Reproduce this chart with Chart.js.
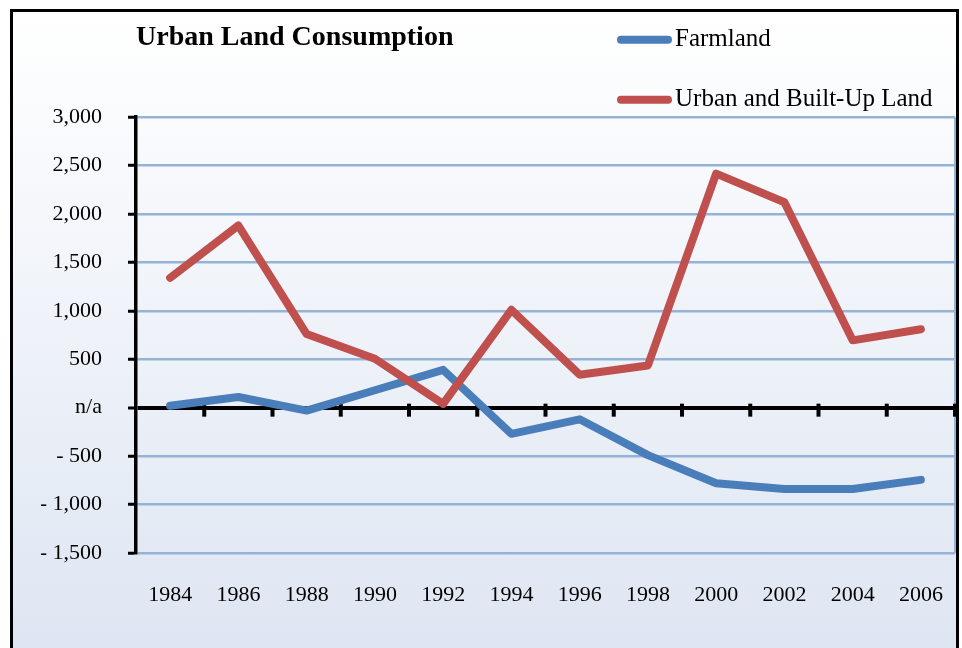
<!DOCTYPE html>
<html>
<head>
<meta charset="utf-8">
<title>Urban Land Consumption</title>
<script src="https://cdn.jsdelivr.net/npm/chart.js@4.4.0/dist/chart.umd.min.js"></script>
<style>
  html, body { margin: 0; padding: 0; background: #fff; overflow: hidden; }
  body { width: 962px; height: 648px; position: relative; }
  .frame {
    position: absolute; left: 10px; top: 9px;
    width: 943px; height: 660px;
    border: 3px solid #000;
    background: linear-gradient(to bottom, #ffffff 0%, #dde5f2 100%);
  }
  .frame canvas { position: absolute; left: 0; top: 0; }
</style>
</head>
<body>
<div class="frame"><canvas id="landChart" width="943" height="636"></canvas></div>
<script>
const years = ['1984', '1986', '1988', '1990', '1992', '1994',
               '1996', '1998', '2000', '2002', '2004', '2006'];

const farmland  = [20, 110, -30, 180, 390, -270, -120, -490, -780, -840, -840, -745];
const urbanLand = [1340, 1880, 760, 505, 40, 1010, 340, 435, 2415, 2120, 695, 810];

const yMin = -1500;
const yMax = 3000;
const yStep = 500;
const zeroLabel = 'n/a';

Chart.defaults.font.family = '"Liberation Serif", "Times New Roman", serif';
Chart.defaults.color = '#000';

// tick marks on the zero line, plus the thin edge on the right of the plot
const zeroAxisTicks = {
  id: 'zeroAxisTicks',
  beforeDatasetsDraw(chart) {
    const { ctx, chartArea, scales: { x, y } } = chart;
    const y0 = y.getPixelForValue(0);
    const step = x.getPixelForValue(1) - x.getPixelForValue(0);
    const start = x.getPixelForValue(0) - step / 2;
    ctx.save();
    ctx.strokeStyle = '#95b3d7';
    ctx.lineWidth = 2;
    ctx.beginPath();
    ctx.moveTo(chartArea.right, chartArea.top);
    ctx.lineTo(chartArea.right, chartArea.bottom);
    ctx.stroke();
    ctx.strokeStyle = '#000';
    ctx.lineWidth = 4;
    for (let i = 1; i <= years.length; i++) {
      const px = start + i * step;
      ctx.beginPath();
      ctx.moveTo(px, y0 - 4);
      ctx.lineTo(px, y0 + 9);
      ctx.stroke();
    }
    ctx.restore();
  }
};

// legend stacked in two rows at the top right
const stackedLegend = {
  id: 'stackedLegend',
  afterDraw(chart, args, opts) {
    const { ctx } = chart;
    ctx.save();
    chart.data.datasets.forEach((ds, i) => {
      const ly = opts.top + i * opts.rowGap;
      ctx.strokeStyle = ds.borderColor;
      ctx.lineWidth = 8;
      ctx.lineCap = 'round';
      ctx.beginPath();
      ctx.moveTo(opts.left, ly);
      ctx.lineTo(opts.left + opts.lineLength, ly);
      ctx.stroke();
      ctx.fillStyle = '#000';
      ctx.font = '25px "Liberation Serif", "Times New Roman", serif';
      ctx.textBaseline = 'alphabetic';
      ctx.fillText(ds.label, opts.left + opts.lineLength + 7, ly + 6.5);
    });
    ctx.restore();
  }
};

const ctx = document.getElementById('landChart').getContext('2d');

new Chart(ctx, {
  type: 'line',
  data: {
    labels: years,
    datasets: [
      {
        label: 'Farmland',
        data: farmland,
        borderColor: '#4a7ebb',
        backgroundColor: '#4a7ebb',
        borderWidth: 8,
        pointRadius: 0,
        tension: 0,
        borderCapStyle: 'round',
        borderJoinStyle: 'round',
        order: 1
      },
      {
        label: 'Urban and Built-Up Land',
        data: urbanLand,
        borderColor: '#c0504d',
        backgroundColor: '#c0504d',
        borderWidth: 8,
        pointRadius: 0,
        tension: 0,
        borderCapStyle: 'round',
        borderJoinStyle: 'round',
        order: 0
      }
    ]
  },
  options: {
    responsive: false,
    animation: false,
    devicePixelRatio: 1,
    layout: { padding: { left: 28, right: 1, top: 0, bottom: 0 } },
    plugins: {
      legend: { display: false },
      tooltip: { enabled: false },
      title: {
        display: true,
        text: 'Urban Land Consumption',
        align: 'start',
        fullSize: false,
        color: '#000',
        font: { size: 28, weight: 'bold' },
        padding: { top: 9, bottom: 62.4 }
      },
      stackedLegend: { left: 608, top: 27.7, rowGap: 60, lineLength: 47 }
    },
    scales: {
      x: {
        offset: true,
        afterFit(scale) {
          scale.height = 95;
          scale.paddingLeft = 0;
          scale.paddingRight = 0;
        },
        grid: { display: false, drawTicks: false },
        border: { display: false },
        ticks: { padding: 29, font: { size: 22 }, maxRotation: 0, autoSkip: false }
      },
      y: {
        min: yMin,
        max: yMax,
        afterFit(scale) { scale.width = 95; },
        ticks: {
          stepSize: yStep,
          padding: 26,
          font: { size: 22 },
          callback: v => v === 0 ? zeroLabel
            : v < 0 ? '- ' + Math.abs(v).toLocaleString('en-US')
            : v.toLocaleString('en-US')
        },
        grid: {
          color: c => c.tick && c.tick.value === 0 ? '#000' : '#95b3d7',
          lineWidth: c => c.tick && c.tick.value === 0 ? 4 : 2.5,
          tickColor: '#000',
          tickLength: 8,
          tickWidth: 3
        },
        border: { display: true, color: '#000', width: 3.5 }
      }
    }
  },
  plugins: [zeroAxisTicks, stackedLegend]
});
</script>
</body>
</html>
